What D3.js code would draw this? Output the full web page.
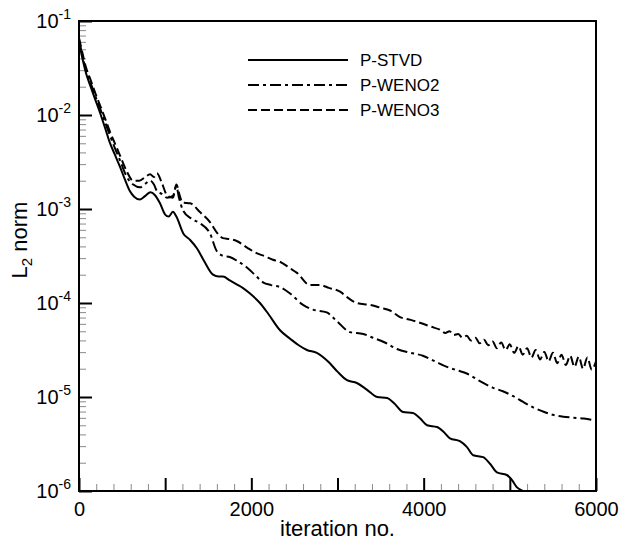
<!DOCTYPE html>
<html>
<head>
<meta charset="utf-8">
<script src="https://cdn.jsdelivr.net/npm/d3@7"></script>
<style>
  body { margin: 0; background: #fff; }
  svg { display: block; font-family: "Liberation Sans", Arial, sans-serif; }
</style>
</head>
<body>
<script>
// residual history (iteration, L2 norm)
const stvdIter = [0, 40, 80, 128, 190, 245, 300, 360, 420, 475, 530, 590, 640, 708, 770, 830, 880, 940, 1000, 1040, 1090, 1130, 1210, 1290, 1370, 1450, 1555, 1620, 1670, 1750, 1830, 1900, 1985, 2100, 2200, 2333, 2450, 2550, 2645, 2760, 2900, 3000, 3110, 3225, 3340, 3460, 3575, 3660, 3760, 3875, 3960, 4040, 4155, 4230, 4305, 4420, 4500, 4575, 4690, 4770, 4850, 4965, 5030, 5080, 5155, 5230];
const stvdNorm = [0.06, 0.0398, 0.0282, 0.0209, 0.0145, 0.0105, 0.00741, 0.00501, 0.00372, 0.00282, 0.00209, 0.00155, 0.00135, 0.00126, 0.00138, 0.00151, 0.00141, 0.00115, 0.000871, 0.000832, 0.000933, 0.000832, 0.00055, 0.000468, 0.00038, 0.000282, 0.0002, 0.000191, 0.000191, 0.000174, 0.000158, 0.000145, 0.000126, 1.0e-4, 7.59e-5, 5.13e-5, 4.17e-5, 3.55e-5, 3.16e-5, 2.95e-5, 2.34e-5, 1.86e-5, 1.51e-5, 1.41e-5, 1.20e-5, 1.0e-5, 9.77e-6, 8.51e-6, 6.92e-6, 6.76e-6, 5.89e-6, 5.01e-6, 4.79e-6, 4.27e-6, 3.63e-6, 3.39e-6, 2.95e-6, 2.40e-6, 2.29e-6, 1.95e-6, 1.58e-6, 1.48e-6, 1.29e-6, 1.10e-6, 1.0e-6, 8.91e-7];

const weno2Iter = [0, 40, 80, 128, 190, 245, 300, 360, 420, 475, 555, 630, 708, 770, 825, 870, 905, 960, 1020, 1090, 1130, 1160, 1210, 1300, 1400, 1520, 1600, 1680, 1750, 1850, 1945, 2040, 2135, 2230, 2330, 2450, 2600, 2715, 2875, 3000, 3145, 3300, 3410, 3550, 3690, 3850, 3990, 4130, 4270, 4400, 4500, 4650, 4800, 4920, 5040, 5150, 5270, 5400, 5500, 5620, 5730, 5860, 6000];
const weno2Norm = [0.063, 0.0427, 0.0302, 0.0229, 0.0158, 0.0117, 0.00851, 0.00603, 0.00437, 0.00331, 0.00219, 0.00182, 0.0017, 0.00186, 0.002, 0.00182, 0.00155, 0.00145, 0.00132, 0.00138, 0.00174, 0.00132, 0.000955, 0.000794, 0.000708, 0.00055, 0.000355, 0.000316, 0.000309, 0.000275, 0.00024, 0.0002, 0.000166, 0.000155, 0.000148, 0.000126, 9.55e-5, 8.51e-5, 7.94e-5, 6.31e-5, 4.90e-5, 4.68e-5, 4.27e-5, 3.80e-5, 3.24e-5, 2.95e-5, 2.75e-5, 2.40e-5, 2.09e-5, 1.91e-5, 1.78e-5, 1.48e-5, 1.26e-5, 1.15e-5, 1.02e-5, 8.91e-6, 7.76e-6, 6.92e-6, 6.46e-6, 6.17e-6, 6.03e-6, 5.89e-6, 5.62e-6];

const weno3Iter = [0, 40, 80, 128, 190, 245, 300, 360, 420, 475, 555, 627, 700, 770, 825, 870, 905, 960, 1020, 1090, 1130, 1170, 1200, 1290, 1400, 1520, 1600, 1670, 1750, 1830, 1950, 2060, 2150, 2250, 2330, 2450, 2530, 2680, 2795, 2900, 3030, 3130, 3225, 3375, 3500, 3610, 3725, 3850, 3955, 4080, 4200, 4250, 4300, 4350, 4400, 4450, 4500, 4550, 4600, 4650, 4700, 4750, 4800, 4850, 4900, 4950, 5000, 5050, 5100, 5150, 5200, 5250, 5300, 5350, 5400, 5450, 5500, 5550, 5600, 5650, 5700, 5750, 5800, 5850, 5900, 5950, 6000];
const weno3Norm = [0.066, 0.0457, 0.0324, 0.0245, 0.017, 0.0126, 0.00933, 0.00661, 0.0049, 0.00372, 0.00251, 0.002, 0.002, 0.00219, 0.00234, 0.00219, 0.0024, 0.00191, 0.00141, 0.00132, 0.00182, 0.00138, 0.00117, 0.00115, 0.000933, 0.000724, 0.000562, 0.00049, 0.000479, 0.000457, 0.000389, 0.000339, 0.000316, 0.000288, 0.000275, 0.000234, 0.000209, 0.000155, 0.000155, 0.000145, 0.000132, 0.000112, 1.0e-4, 9.55e-5, 8.91e-5, 8.32e-5, 7.08e-5, 6.61e-5, 6.17e-5, 5.62e-5, 5.13e-5, 4.79e-5, 5.01e-5, 4.57e-5, 4.68e-5, 4.27e-5, 4.47e-5, 3.98e-5, 4.27e-5, 3.72e-5, 4.07e-5, 3.55e-5, 3.89e-5, 3.31e-5, 3.80e-5, 3.16e-5, 3.63e-5, 2.95e-5, 3.47e-5, 2.82e-5, 3.31e-5, 2.63e-5, 3.16e-5, 2.51e-5, 3.02e-5, 2.40e-5, 2.95e-5, 2.29e-5, 2.82e-5, 2.19e-5, 2.75e-5, 2.09e-5, 2.69e-5, 2.00e-5, 2.63e-5, 1.95e-5, 2.40e-5];

const seriesNames = ["P-STVD", "P-WENO2", "P-WENO3"];
const xMajor = [0, 1000, 2000, 3000, 4000, 5000, 6000];
const xLabels = [0, 2000, 4000, 6000];
const yExp = [-1, -2, -3, -4, -5, -6];

const margin = { top: 21, right: 25, bottom: 51, left: 79 };
const width = 621 - margin.left - margin.right;
const height = 542 - margin.top - margin.bottom;

const x = d3.scaleLinear().domain([0, 6000]).range([0, width]);
const y = d3.scaleLog().domain([1e-6, 1e-1]).range([height, 0]);

const svg = d3.select("body").append("svg")
  .attr("width", 621)
  .attr("height", 542)
  .append("g")
  .attr("transform", "translate(" + margin.left + "," + margin.top + ")");

svg.append("clipPath").attr("id", "plot-clip")
  .append("rect").attr("width", width).attr("height", height);

// minor ticks first, thin and grey
const xMinor = d3.range(0, 6001, 200).filter(v => v % 1000 !== 0);
const yMinor = [];
yExp.slice(1).forEach(e => {
  for (let k = 2; k <= 9; k++) yMinor.push(k * Math.pow(10, e));
});

svg.append("g")
  .attr("class", "x minor")
  .attr("transform", "translate(0," + height + ")")
  .call(d3.axisBottom(x).tickValues(xMinor).tickSize(-7).tickSizeOuter(0).tickFormat(""))
  .call(g => g.select(".domain").remove())
  .selectAll("line").attr("stroke", "#8a8a8a").attr("stroke-width", 1);

svg.append("g")
  .attr("class", "y minor")
  .call(d3.axisLeft(y).tickValues(yMinor).tickSize(-7).tickSizeOuter(0).tickFormat(""))
  .call(g => g.select(".domain").remove())
  .selectAll("line").attr("stroke", "#8a8a8a").attr("stroke-width", 1);

// major ticks
const xAxis = svg.append("g")
  .attr("class", "x axis")
  .attr("transform", "translate(0," + height + ")")
  .call(d3.axisBottom(x).tickValues(xMajor).tickSize(-13).tickSizeOuter(0).tickPadding(11)
    .tickFormat(d => xLabels.includes(d) ? d : ""));
xAxis.select(".domain").remove();
xAxis.selectAll("line").attr("stroke", "#000").attr("stroke-width", 2);
xAxis.selectAll("text").attr("font-size", 20).attr("fill", "#000")
  .attr("font-family", "Liberation Sans, Arial, sans-serif");

const yAxis = svg.append("g")
  .attr("class", "y axis")
  .call(d3.axisLeft(y).tickValues(yExp.map(e => Math.pow(10, e))).tickSize(-13).tickSizeOuter(0).tickFormat(""));
yAxis.select(".domain").remove();
yAxis.selectAll("line").attr("stroke", "#000").attr("stroke-width", 2);

const yLab = svg.append("g").selectAll("text")
  .data(yExp)
  .enter().append("text")
  .attr("x", -8)
  .attr("y", d => y(Math.pow(10, d)) + 7)
  .attr("text-anchor", "end")
  .attr("font-size", 20);
yLab.append("tspan").text("10");
yLab.append("tspan").attr("font-size", 14).attr("dy", -9).text(d => d);

// frame
svg.append("rect")
  .attr("width", width)
  .attr("height", height)
  .attr("fill", "none")
  .attr("stroke", "#000")
  .attr("stroke-width", 2);

// curves
const series = [
  { name: seriesNames[0], it: stvdIter, val: stvdNorm, dash: null },
  { name: seriesNames[1], it: weno2Iter, val: weno2Norm, dash: "11,4,3,4" },
  { name: seriesNames[2], it: weno3Iter, val: weno3Norm, dash: "9,4" }
];

const line = d3.line()
  .x(d => x(d[0]))
  .y(d => y(d[1]))
  .curve(d3.curveMonotoneX);

svg.append("g").attr("clip-path", "url(#plot-clip)")
  .selectAll("path")
  .data(series)
  .enter().append("path")
  .attr("d", s => line(s.it.map((v, i) => [v, s.val[i]])))
  .attr("fill", "none")
  .attr("stroke", "#000")
  .attr("stroke-width", 2)
  .attr("stroke-dasharray", s => s.dash);

// legend
const legend = svg.append("g")
  .attr("transform", "translate(" + (248 - margin.left) + "," + (60 - margin.top) + ")");
const row = legend.selectAll("g")
  .data(series)
  .enter().append("g")
  .attr("transform", (d, i) => "translate(0," + (i * 25) + ")");
row.append("line")
  .attr("x1", 0).attr("x2", 100)
  .attr("stroke", "#000").attr("stroke-width", 2)
  .attr("stroke-dasharray", d => d.dash);
row.append("text")
  .attr("x", 112).attr("y", 0).attr("dy", "0.35em")
  .attr("font-size", 17)
  .text(d => d.name);

// axis titles
svg.append("text")
  .attr("x", width / 2)
  .attr("y", height + 45)
  .attr("text-anchor", "middle")
  .attr("font-size", 22)
  .text("iteration no.");

const yTitle = svg.append("text")
  .attr("transform", "translate(" + (-52) + "," + (240 - margin.top) + ") rotate(-90)")
  .attr("text-anchor", "middle")
  .attr("font-size", 22);
yTitle.append("tspan").text("L");
yTitle.append("tspan").attr("font-size", 15).attr("dy", 5).text("2");
yTitle.append("tspan").attr("dy", -5).text(" norm");
</script>
</body>
</html>
